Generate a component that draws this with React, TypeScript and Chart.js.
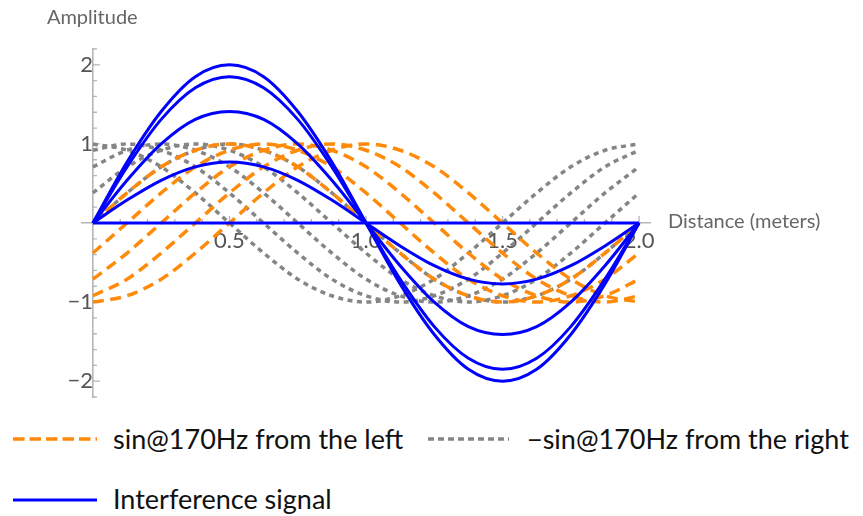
import React, { useEffect, useRef } from 'react';
import { Chart, registerables } from 'chart.js';

Chart.register(...registerables);

// Distance (meters) sample positions
const X_VALUES = [0, 0.125, 0.25, 0.375, 0.5, 0.625, 0.75, 0.875, 1, 1.125, 1.25, 1.375, 1.5, 1.625, 1.75, 1.875, 2];

// sin@170Hz from the left (5 phases)
const LEFT_0 = [0, 0.38, 0.71, 0.92, 1, 0.92, 0.71, 0.38, 0, -0.38, -0.71, -0.92, -1, -0.92, -0.71, -0.38, 0];
const LEFT_1 = [-0.38, 0, 0.38, 0.71, 0.92, 1, 0.92, 0.71, 0.38, 0, -0.38, -0.71, -0.92, -1, -0.92, -0.71, -0.38];
const LEFT_2 = [-0.71, -0.38, 0, 0.38, 0.71, 0.92, 1, 0.92, 0.71, 0.38, 0, -0.38, -0.71, -0.92, -1, -0.92, -0.71];
const LEFT_3 = [-0.92, -0.71, -0.38, 0, 0.38, 0.71, 0.92, 1, 0.92, 0.71, 0.38, 0, -0.38, -0.71, -0.92, -1, -0.92];
const LEFT_4 = [-1, -0.92, -0.71, -0.38, 0, 0.38, 0.71, 0.92, 1, 0.92, 0.71, 0.38, 0, -0.38, -0.71, -0.92, -1];

// −sin@170Hz from the right (5 phases)
const RIGHT_0 = [0, 0.38, 0.71, 0.92, 1, 0.92, 0.71, 0.38, 0, -0.38, -0.71, -0.92, -1, -0.92, -0.71, -0.38, 0];
const RIGHT_1 = [0.38, 0.71, 0.92, 1, 0.92, 0.71, 0.38, 0, -0.38, -0.71, -0.92, -1, -0.92, -0.71, -0.38, 0, 0.38];
const RIGHT_2 = [0.71, 0.92, 1, 0.92, 0.71, 0.38, 0, -0.38, -0.71, -0.92, -1, -0.92, -0.71, -0.38, 0, 0.38, 0.71];
const RIGHT_3 = [0.92, 1, 0.92, 0.71, 0.38, 0, -0.38, -0.71, -0.92, -1, -0.92, -0.71, -0.38, 0, 0.38, 0.71, 0.92];
const RIGHT_4 = [1, 0.92, 0.71, 0.38, 0, -0.38, -0.71, -0.92, -1, -0.92, -0.71, -0.38, 0, 0.38, 0.71, 0.92, 1];

// Interference signal (5 phases)
const SUM_0 = [0, 0.77, 1.41, 1.85, 2, 1.85, 1.41, 0.77, 0, -0.77, -1.41, -1.85, -2, -1.85, -1.41, -0.77, 0];
const SUM_1 = [0, 0.71, 1.31, 1.71, 1.85, 1.71, 1.31, 0.71, 0, -0.71, -1.31, -1.71, -1.85, -1.71, -1.31, -0.71, 0];
const SUM_2 = [0, 0.54, 1, 1.31, 1.41, 1.31, 1, 0.54, 0, -0.54, -1, -1.31, -1.41, -1.31, -1, -0.54, 0];
const SUM_3 = [0, 0.29, 0.54, 0.71, 0.77, 0.71, 0.54, 0.29, 0, -0.29, -0.54, -0.71, -0.77, -0.71, -0.54, -0.29, 0];
const SUM_4 = [0, 0, 0, 0, 0, 0, 0, 0, 0, 0, 0, 0, 0, 0, 0, 0, 0];

const LEFT_WAVES = [LEFT_0, LEFT_1, LEFT_2, LEFT_3, LEFT_4];
const RIGHT_WAVES = [RIGHT_0, RIGHT_1, RIGHT_2, RIGHT_3, RIGHT_4];
const SUM_WAVES = [SUM_0, SUM_1, SUM_2, SUM_3, SUM_4];

const X_MAJOR_TICKS = [0.5, 1, 1.5, 2];
const X_MINOR_TICKS = [0.1, 0.2, 0.3, 0.4, 0.6, 0.7, 0.8, 0.9, 1.1, 1.2, 1.3, 1.4, 1.6, 1.7, 1.8, 1.9];
const Y_MAJOR_TICKS = [-2, -1, 1, 2];
const Y_MINOR_TICKS = [-2.2, -1.8, -1.6, -1.4, -1.2, -0.8, -0.6, -0.4, -0.2, 0.2, 0.4, 0.6, 0.8, 1.2, 1.4, 1.6, 1.8, 2.2];

const X_TITLE = 'Distance (meters)';
const Y_TITLE = 'Amplitude';
const LEGEND_LEFT = 'sin@170Hz from the left';
const LEGEND_RIGHT = '\u2212sin@170Hz from the right';
const LEGEND_SUM = 'Interference signal';

const ORANGE = '#ff8a0a';
const GRAY = '#858585';
const BLUE = '#0000ff';
const AXIS = '#b5b5b5';
const FONT = 'Lato, "Noto Sans", sans-serif';

const toPoints = (ys: number[]) => ys.map((y, i) => ({ x: X_VALUES[i], y }));

const axisDecor = {
  id: 'axisDecor',
  beforeDatasetsDraw(chart: any) {
    const { ctx, scales } = chart;
    const x = scales.x;
    const y = scales.y;
    const x0 = x.getPixelForValue(0);
    const y0 = y.getPixelForValue(0);
    ctx.save();
    ctx.strokeStyle = AXIS;
    ctx.lineWidth = 1.3;
    ctx.beginPath();
    X_MINOR_TICKS.forEach((v) => {
      const px = x.getPixelForValue(v);
      ctx.moveTo(px, y0);
      ctx.lineTo(px, y0 - 4);
    });
    X_MAJOR_TICKS.forEach((v) => {
      const px = x.getPixelForValue(v);
      ctx.moveTo(px, y0);
      ctx.lineTo(px, y0 - 7);
    });
    Y_MINOR_TICKS.forEach((v) => {
      const py = y.getPixelForValue(v);
      ctx.moveTo(x0, py);
      ctx.lineTo(x0 + 4, py);
    });
    Y_MAJOR_TICKS.forEach((v) => {
      const py = y.getPixelForValue(v);
      ctx.moveTo(x0, py);
      ctx.lineTo(x0 + 7, py);
    });
    ctx.stroke();
    ctx.fillStyle = '#666';
    ctx.font = '20px ' + FONT;
    ctx.textAlign = 'left';
    ctx.textBaseline = 'middle';
    ctx.fillText(X_TITLE, x.right + 18, y0 - 1);
    ctx.fillText(Y_TITLE, x0 - 46, y.top - 31);
    ctx.restore();
  },
};

function LegendSample({ color, width, dash, lineWidth }: { color: string; width: number; dash?: string; lineWidth: number }) {
  return (
    <svg width={width} height={10} style={{ display: 'block' }}>
      <line x1={0} y1={5} x2={width} y2={5} stroke={color} strokeWidth={lineWidth} strokeDasharray={dash} />
    </svg>
  );
}

export default function App() {
  const canvasRef = useRef<HTMLCanvasElement | null>(null);

  useEffect(() => {
    if (!canvasRef.current) return;
    const datasets: any[] = [];
    SUM_WAVES.forEach((ys, i) => {
      datasets.push({
        label: LEGEND_SUM + ' ' + i,
        data: toPoints(ys),
        borderColor: BLUE,
        borderWidth: 3,
        pointRadius: 0,
        fill: false,
        cubicInterpolationMode: 'monotone',
      });
    });
    LEFT_WAVES.forEach((ys, i) => {
      datasets.push({
        label: LEGEND_LEFT + ' ' + i,
        data: toPoints(ys),
        borderColor: ORANGE,
        borderWidth: 3.5,
        borderDash: [11, 6.5],
        pointRadius: 0,
        fill: false,
        cubicInterpolationMode: 'monotone',
      });
    });
    RIGHT_WAVES.forEach((ys, i) => {
      datasets.push({
        label: LEGEND_RIGHT + ' ' + i,
        data: toPoints(ys),
        borderColor: GRAY,
        borderWidth: 3.5,
        borderDash: [5, 4.5],
        pointRadius: 0,
        fill: false,
        cubicInterpolationMode: 'monotone',
      });
    });

    const noPad = (s: any) => {
      s.paddingTop = 0;
      s.paddingBottom = 0;
      s.paddingLeft = 0;
      s.paddingRight = 0;
    };

    const chart = new Chart(canvasRef.current, {
      type: 'line',
      data: { datasets },
      options: {
        responsive: false,
        animation: false,
        events: [],
        layout: { padding: { left: 74, top: 41, right: 205, bottom: 13 } },
        plugins: {
          legend: { display: false },
          tooltip: { enabled: false },
        },
        scales: {
          x: {
            type: 'linear',
            min: -0.04,
            max: 2.04,
            position: { y: 0 } as any,
            grid: { display: false, drawTicks: false },
            border: { display: true, color: AXIS, width: 1.6 },
            afterFit: noPad,
            afterBuildTicks: (s: any) => {
              s.ticks = X_MAJOR_TICKS.map((v) => ({ value: v }));
            },
            ticks: {
              autoSkip: false,
              maxRotation: 0,
              padding: 5,
              color: '#555',
              font: { family: FONT, size: 22 },
              callback: (v: any) => Number(v).toFixed(1),
            },
          },
          y: {
            type: 'linear',
            min: -2.2,
            max: 2.2,
            position: { x: 0 } as any,
            grid: { display: false, drawTicks: false },
            border: { display: true, color: AXIS, width: 1.6 },
            afterFit: noPad,
            afterBuildTicks: (s: any) => {
              s.ticks = Y_MAJOR_TICKS.map((v) => ({ value: v }));
            },
            ticks: {
              autoSkip: false,
              padding: 9,
              color: '#555',
              font: { family: FONT, size: 22 },
              callback: (v: any) => (Number(v) < 0 ? '\u2212' + Math.abs(Number(v)) : String(v)),
            },
          },
        },
      },
      plugins: [axisDecor],
    });
    return () => chart.destroy();
  }, []);

  const textStyle: React.CSSProperties = { fontFamily: FONT, fontSize: 27, color: '#111', whiteSpace: 'nowrap', lineHeight: '40px' };

  return (
    <div style={{ position: 'relative', width: 847, height: 508 }}>
      <canvas ref={canvasRef} width={847} height={402} style={{ position: 'absolute', left: 0, top: 0 }} />
      <div style={{ position: 'absolute', left: 5, top: 426, height: 10 }}>
        <LegendSample color={ORANGE} width={84} dash="11.5 5" lineWidth={3.5} />
      </div>
      <div style={{ position: 'absolute', left: 105, top: 411, ...textStyle }}>{LEGEND_LEFT}</div>
      <div style={{ position: 'absolute', left: 420, top: 426, height: 10 }}>
        <LegendSample color={GRAY} width={81} dash="6 4" lineWidth={3.5} />
      </div>
      <div style={{ position: 'absolute', left: 519, top: 411, ...textStyle }}>{LEGEND_RIGHT}</div>
      <div style={{ position: 'absolute', left: 5, top: 487, height: 10 }}>
        <LegendSample color={BLUE} width={84} lineWidth={3} />
      </div>
      <div style={{ position: 'absolute', left: 105, top: 471, ...textStyle }}>{LEGEND_SUM}</div>
    </div>
  );
}
